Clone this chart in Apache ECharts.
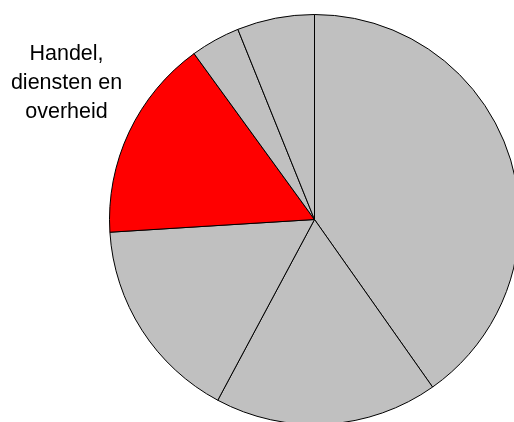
<!DOCTYPE html>
<html>
<head>
<meta charset="utf-8">
<script src="https://cdn.jsdelivr.net/npm/echarts@6/dist/echarts.min.js"></script>
<style>
  html, body { margin: 0; padding: 0; background: #ffffff; }
  #chart { width: 514px; height: 422px; }
</style>
</head>
<body>
<div id="chart"></div>
<script>
// Sector shares (percent), clockwise from 12 o'clock
const categories = ['Industrie', 'Bouw', 'Landbouw', 'Handel, diensten en overheid', 'Vervoer', 'Overig'];
const shares = [40.25, 17.6, 16.2, 16.0, 3.9, 6.1];
const highlighted = 'Handel, diensten en overheid';
const labelLines = ['Handel,', 'diensten en', 'overheid'];

const chart = echarts.init(document.getElementById('chart'), null, { renderer: 'canvas' });

const data = categories.map((name, i) => ({
  name: name,
  value: shares[i],
  itemStyle: { color: name === highlighted ? '#ff0000' : '#c0c0c0' }
}));

chart.setOption({
  animation: false,
  backgroundColor: '#ffffff',
  series: [{
    type: 'pie',
    center: [314.5, 219.5],
    radius: 205,
    startAngle: 90,
    clockwise: true,
    avoidLabelOverlap: false,
    label: { show: false },
    labelLine: { show: false },
    emphasis: { disabled: true },
    itemStyle: { borderColor: '#000000', borderWidth: 1 },
    data: data
  }],
  graphic: [{
    type: 'text',
    x: 66.5,
    y: 40,
    style: {
      text: labelLines.join('\n'),
      align: 'center',
      verticalAlign: 'top',
      fill: '#000000',
      font: '21.5px "Liberation Sans", Arial, sans-serif',
      lineHeight: 29
    },
    silent: true
  }]
});
</script>
</body>
</html>
